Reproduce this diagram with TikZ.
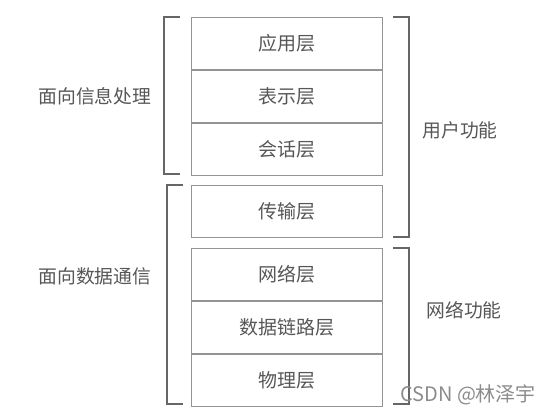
\documentclass[tikz,border=0pt]{standalone}
\usepackage{fontspec}
\newfontfamily\cjk{Noto Sans CJK SC}
\begin{document}
\begin{tikzpicture}[x=1pt,y=-1pt,
  layer/.style={draw=black!42,line width=0.9pt,minimum width=191pt,minimum height=52pt,inner sep=0pt,font=\cjk\fontsize{19}{19}\selectfont,text=black!66},
  lbl/.style={font=\cjk\fontsize{18.8}{18.8}\selectfont,text=black!66,inner sep=0pt},
  brk/.style={draw=black!60,line width=1.2pt},
  wm/.style={font=\cjk\fontsize{20}{20}\selectfont,text=black!45,inner sep=0pt}]
\useasboundingbox (0,0) rectangle (552,414);
\fill[white] (0,0) rectangle (552,414);
% boxes
\node[layer,anchor=north west] (app) at (191,17) {应用层};
\node[layer,anchor=north] (pre) at (app.south) {表示层};
\node[layer,anchor=north] (ses) at (pre.south) {会话层};
\node[layer,anchor=north west] (tra) at (191,185) {传输层};
\node[layer,anchor=north west] (net) at (191,248) {网络层};
\node[layer,anchor=north] (dl) at (net.south) {数据链路层};
\node[layer,anchor=north] (phy) at (dl.south) {物理层};
% brackets
\coordinate (lu1) at (180,17); \coordinate (lu2) at (164,17);
\coordinate (lu3) at (164,174); \coordinate (lu4) at (180,174);
\coordinate (ll1) at (183,185); \coordinate (ll2) at (167,185);
\coordinate (ll3) at (167,404); \coordinate (ll4) at (183,404);
\coordinate (ru1) at (393,17); \coordinate (ru2) at (409,17);
\coordinate (ru3) at (409,237); \coordinate (ru4) at (393,237);
\coordinate (rl1) at (393,248); \coordinate (rl2) at (409,248);
\coordinate (rl3) at (409,404); \coordinate (rl4) at (393,404);
\draw[brk] (lu1) -- (lu2) -- (lu3) -- (lu4);
\draw[brk] (ll1) -- (ll2) -- (ll3) -- (ll4);
\draw[brk] (ru1) -- (ru2) -- (ru3) -- (ru4);
\draw[brk] (rl1) -- (rl2) -- (rl3) -- (rl4);
% labels
\node[lbl] (info) at (95,96) {面向信息处理};
\node[lbl] (data) at (95,276) {面向数据通信};
\node[lbl] (user) at (460,130) {用户功能};
\node[lbl] (netf) at (464,310) {网络功能};
% watermark
\node[wm,anchor=west] (wmk) at (400,395) {CSDN @林泽宇};
\end{tikzpicture}
\end{document}
